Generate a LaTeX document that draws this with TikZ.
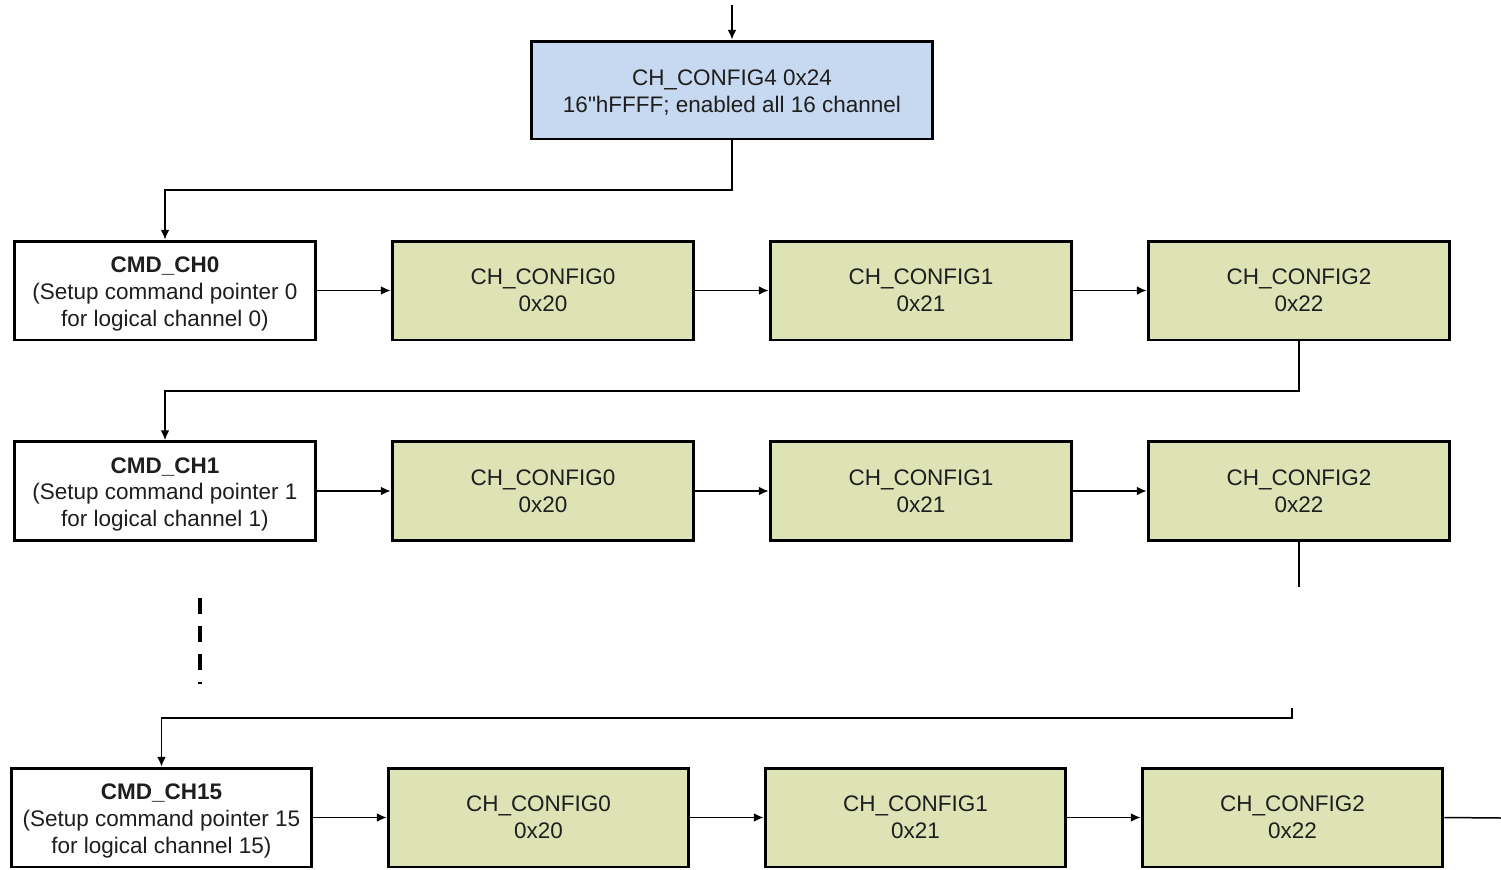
\documentclass[tikz,border=0pt]{standalone}
\usepackage{fontspec}
\setmainfont{Liberation Sans}[Ligatures=TeXOff]
\usetikzlibrary{arrows.meta}
\definecolor{cfgblue}{RGB}{198,217,241}
\definecolor{cfggreen}{RGB}{221,227,181}
\definecolor{ink}{RGB}{30,30,30}
\newcommand\tstrut{\rule{0pt}{12.8pt}}
\begin{document}
\begin{tikzpicture}[x=0.02cm,y=-0.02cm,
  box/.style={draw=black,line width=1.7pt,minimum width=6.04cm,minimum height=1.98cm,
    inner sep=0pt,align=center,text=ink,font=\fontsize{12.8}{15.2}\selectfont},
  cmdbox/.style={box,fill=white},
  cfgbox/.style={box,fill=cfggreen},
  topbox/.style={box,fill=cfgblue,minimum width=8.04cm,minimum height=1.96cm,
    font=\fontsize{12.8}{15.5}\selectfont},
  conn/.style={draw=black,line width=0.85pt},
  arr/.style={conn,-{Latex[length=5.5pt,width=5pt]}}]
\useasboundingbox (0,0) rectangle (1501,869);
% top box
\node[topbox] (top) at (732,90) {\rule{0pt}{11.5pt}CH\_CONFIG4 0x24\\16"hFFFF; enabled all 16 channel};
% row 1
\node[cmdbox] (a0) at (165,290.5) {\tstrut\textbf{CMD\_CH0}\\(Setup command pointer 0\\for logical channel 0)};
\node[cfgbox] (a1) at (543,290.5) {CH\_CONFIG0\\0x20};
\node[cfgbox] (a2) at (921,290.5) {CH\_CONFIG1\\0x21};
\node[cfgbox] (a3) at (1299,290.5) {CH\_CONFIG2\\0x22};
% row 2
\node[cmdbox] (b0) at (165,491) {\tstrut\textbf{CMD\_CH1}\\(Setup command pointer 1\\for logical channel 1)};
\node[cfgbox] (b1) at (543,491) {CH\_CONFIG0\\0x20};
\node[cfgbox] (b2) at (921,491) {CH\_CONFIG1\\0x21};
\node[cfgbox] (b3) at (1299,491) {CH\_CONFIG2\\0x22};
% row 3
\node[cmdbox,minimum width=6.02cm] (c0) at (161.5,817.5) {\tstrut\textbf{CMD\_CH15}\\(Setup command pointer 15\\for logical channel 15)};
\node[cfgbox,minimum width=6.02cm] (c1) at (538.5,817.5) {CH\_CONFIG0\\0x20};
\node[cfgbox,minimum width=6.02cm] (c2) at (915.5,817.5) {CH\_CONFIG1\\0x21};
\node[cfgbox,minimum width=6.02cm] (c3) at (1292.5,817.5) {CH\_CONFIG2\\0x22};
% coordinates
\coordinate (in) at (732,5);
\coordinate (j1) at (732,190);
\coordinate (j2) at (1299,391);
\coordinate (e1) at (1299,587);
\coordinate (d1) at (200,598);
\coordinate (d2) at (200,684);
\coordinate (s3) at (1292,708);
\coordinate (j3) at (1292,718);
\coordinate (ex) at (1501,818);
% connectors
\draw[arr] (in) -- (top.north);
\draw[arr] (top.south) -- (j1) -| (a0.north);
\draw[arr] (a0.east) -- (a1.west);
\draw[arr] (a1.east) -- (a2.west);
\draw[arr] (a2.east) -- (a3.west);
\draw[arr] (a3.south) -- (j2) -| (b0.north);
\draw[arr] (b0.east) -- (b1.west);
\draw[arr] (b1.east) -- (b2.west);
\draw[arr] (b2.east) -- (b3.west);
\draw[conn] (b3.south) -- (e1);
\draw[line width=2pt,dash pattern=on 9.1pt off 6.8pt] (d1) -- (d2);
\draw[arr] (s3) -- (j3) -| (c0.north);
\draw[arr] (c0.east) -- (c1.west);
\draw[arr] (c1.east) -- (c2.west);
\draw[arr] (c2.east) -- (c3.west);
\draw[conn] (c3.east) -- (ex);
\end{tikzpicture}
\end{document}
